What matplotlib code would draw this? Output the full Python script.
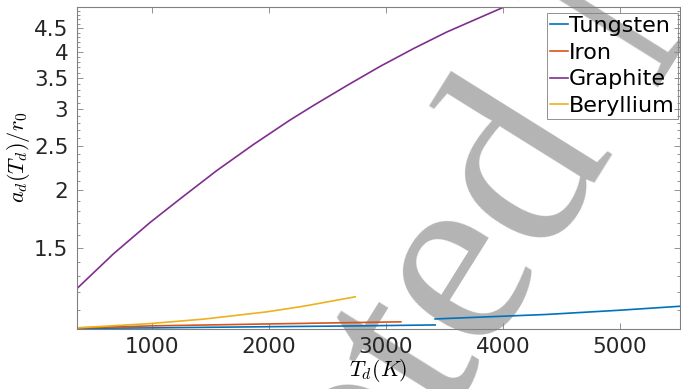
import numpy as np
import matplotlib
matplotlib.use("Agg")
import matplotlib.pyplot as plt
from matplotlib.ticker import FixedLocator, NullFormatter

# values (T in K, a_d/r_0)
t_graphite = [359, 672, 985, 1242, 1556, 1868, 2182, 2381, 2667, 2951, 3236, 3521, 4000]
a_graphite = [1.222, 1.455, 1.702, 1.916, 2.208, 2.514, 2.843, 3.056, 3.377, 3.717, 4.063, 4.415, 4.99]

t_tungsten_1 = [359, 985, 1983, 2738, 3421]
a_tungsten_1 = [1.003, 1.005, 1.011, 1.015, 1.020]
t_tungsten_2 = [3421, 4376, 5000, 5517]
a_tungsten_2 = [1.051, 1.075, 1.098, 1.12]

t_iron = [359, 985, 1983, 3128]
a_iron = [1.005, 1.015, 1.025, 1.036]

t_beryllium = [359, 985, 1441, 1983, 2296, 2738]
a_beryllium = [1.005, 1.027, 1.050, 1.089, 1.12, 1.174]

x_ticks = [1000, 2000, 3000, 4000, 5000]
y_ticks = [1.5, 2, 2.5, 3, 3.5, 4, 4.5]
y_tick_labels = ["1.5", "2", "2.5", "3", "3.5", "4", "4.5"]

colors = {"Tungsten": "#0072BD", "Iron": "#D95319",
          "Graphite": "#7E2F8E", "Beryllium": "#EDB120"}

plt.rcParams["mathtext.fontset"] = "cm"
plt.rcParams["font.family"] = ["DejaVu Sans"]

W, H = 681, 389
fig = plt.figure(figsize=(6.81, 3.89), dpi=100)
ax = fig.add_axes([76.7 / W, 1 - 328.5 / H, (680.5 - 76.7) / W, (328.5 - 7.5) / H])
ax.set_facecolor("none")

# watermark, drawn under the axes
ang = 58
x0, y0 = 613, H - 148
fig.text(x0 / W, y0 / H, "Accepted", rotation=ang, rotation_mode="anchor",
         ha="right", va="baseline", fontsize=188, family="Liberation Serif",
         color="#b4b4b4", zorder=-1)
gap = 72
x1 = x0 + gap * np.cos(np.radians(ang))
y1 = y0 + gap * np.sin(np.radians(ang))
fig.text(x1 / W, y1 / H, "Manuscript", rotation=ang, rotation_mode="anchor",
         ha="left", va="baseline", fontsize=188, family="Liberation Serif",
         color="#b4b4b4", zorder=-1)

lw = 1.2
ax.semilogy(t_tungsten_1, a_tungsten_1, color=colors["Tungsten"], lw=lw, label="Tungsten")
ax.semilogy(t_iron, a_iron, color=colors["Iron"], lw=lw, label="Iron")
ax.semilogy(t_graphite, a_graphite, color=colors["Graphite"], lw=lw, label="Graphite")
ax.semilogy(t_beryllium, a_beryllium, color=colors["Beryllium"], lw=lw, label="Beryllium")
ax.semilogy(t_tungsten_2, a_tungsten_2, color=colors["Tungsten"], lw=lw)

ax.set_xlim(359, 5517)
ax.set_ylim(1.002, 4.99)

ax.yaxis.set_major_locator(FixedLocator(y_ticks))
ax.set_yticklabels(y_tick_labels)
minor = [v / 10 for v in range(11, 50) if v % 5 != 0]
ax.yaxis.set_minor_locator(FixedLocator(minor))
ax.yaxis.set_minor_formatter(NullFormatter())
ax.set_xticks(x_ticks)
ax.set_xticklabels([str(v) for v in x_ticks])

ax.tick_params(which="both", direction="in", top=True, right=True,
               colors="#808080", labelcolor="#262626", labelsize=15.5, width=0.6)
ax.tick_params(which="major", length=4, pad=6)
ax.tick_params(which="minor", length=2)
for s in ax.spines.values():
    s.set_color("#808080")
    s.set_linewidth(0.8)

ax.set_xlabel(r"$T_d(K)$", fontsize=16, labelpad=0)
ax.set_ylabel(r"$a_d(T_d)/r_0$", fontsize=16)
ax.yaxis.set_label_coords((32 - 76.7) / 603.8, 0.533)

leg = ax.legend(loc="upper right", bbox_to_anchor=(678 / W, 1 - 12.7 / H),
                bbox_transform=fig.transFigure, borderaxespad=0,
                fontsize=16, handlelength=0.8, handletextpad=0.05,
                labelspacing=0.3, borderpad=0.15,
                fancybox=False, framealpha=1, facecolor="none", edgecolor="#808080")
leg.get_frame().set_linewidth(0.6)

fig.savefig("out.png", dpi=100)
